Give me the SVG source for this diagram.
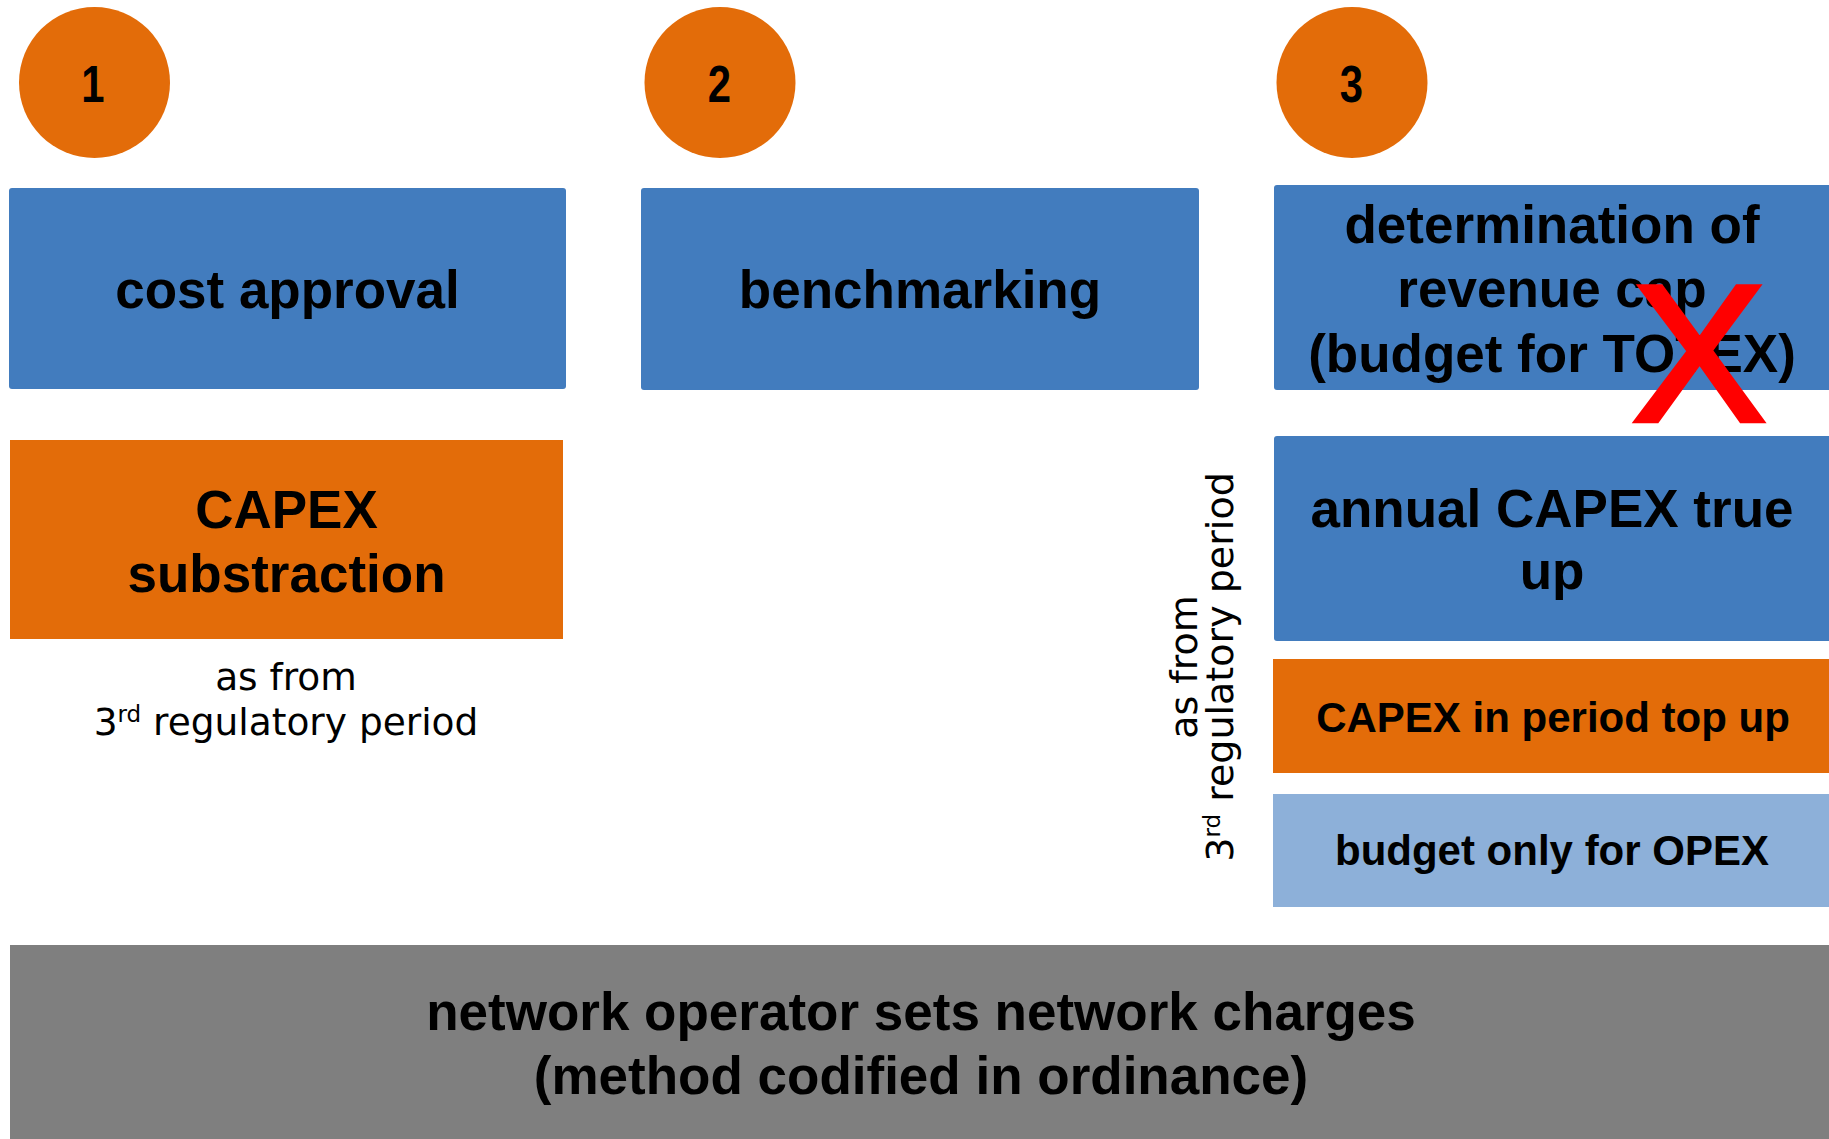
<svg xmlns="http://www.w3.org/2000/svg" width="1829" height="1139" viewBox="0 0 1829 1139">
  <style>
    .blue { fill: #427CBE; }
    .orange { fill: #E36C09; }
    .light { fill: #8DB0D9; }
    .grey { fill: #7F7F7F; }
    .head { font-family: "Liberation Sans", Arial, sans-serif; font-weight: bold; font-size: 53px; fill: #000; text-anchor: middle; }
    .mid { font-family: "Liberation Sans", Arial, sans-serif; font-weight: bold; font-size: 42px; fill: #000; text-anchor: middle; }
    .num { font-family: "Liberation Sans", Arial, sans-serif; font-weight: bold; font-size: 51px; fill: #000; text-anchor: middle; }
    .note { font-family: "DejaVu Sans", Verdana, sans-serif; font-size: 37.5px; fill: #000; text-anchor: middle; }
    .note-r { font-family: "DejaVu Sans", Verdana, sans-serif; font-size: 38px; fill: #000; text-anchor: middle; }
  </style>

  <rect width="1829" height="1139" fill="#fff"/>

  <!-- step badges -->
  <g id="badge-1">
    <circle class="orange" cx="94.5" cy="82.5" r="75.5"/>
    <text class="num" transform="translate(93 102) scale(0.82 1)">1</text>
  </g>
  <g id="badge-2">
    <circle class="orange" cx="720" cy="82.5" r="75.5"/>
    <text class="num" transform="translate(719.5 102) scale(0.82 1)">2</text>
  </g>
  <g id="badge-3">
    <circle class="orange" cx="1352" cy="82.5" r="75.5"/>
    <text class="num" transform="translate(1351.5 102) scale(0.82 1)">3</text>
  </g>

  <!-- column 1 -->
  <g id="cost-approval">
    <rect class="blue" x="9" y="188" width="557" height="201" rx="3"/>
    <text class="head" x="287.5" y="308">cost approval</text>
  </g>
  <g id="capex-substraction">
    <rect class="orange" x="10" y="440" width="553" height="199"/>
    <text class="head" x="286.5" y="528">CAPEX</text>
    <text class="head" x="286.5" y="592">substraction</text>
  </g>
  <g id="note-left">
    <text class="note" x="286" y="690">as from</text>
    <text class="note" x="286" y="735">3<tspan font-size="23" dy="-13">rd</tspan><tspan dy="13"> regulatory period</tspan></text>
  </g>

  <!-- column 2 -->
  <g id="benchmarking">
    <rect class="blue" x="641" y="188" width="558" height="202" rx="3"/>
    <text class="head" x="920" y="308">benchmarking</text>
  </g>

  <!-- column 3 -->
  <g id="revenue-cap">
    <rect class="blue" x="1274" y="185" width="560" height="205" rx="3"/>
    <text class="head" x="1552" y="243">determination of</text>
    <text class="head" x="1552" y="307">revenue cap</text>
    <text class="head" x="1552" y="372">(budget for TOTEX)</text>
  </g>
  <g id="annual-capex-true-up">
    <rect class="blue" x="1274" y="436" width="560" height="205" rx="3"/>
    <text class="head" x="1552" y="527">annual CAPEX true</text>
    <text class="head" x="1552" y="589">up</text>
  </g>
  <g id="capex-top-up">
    <rect class="orange" x="1273" y="659" width="560" height="114"/>
    <text class="mid" x="1553" y="732">CAPEX in period top up</text>
  </g>
  <g id="opex-budget">
    <rect class="light" x="1273" y="794" width="560" height="113"/>
    <text class="mid" x="1552" y="865">budget only for OPEX</text>
  </g>
  <g id="note-right" transform="translate(1197 667) rotate(-90)">
    <text class="note-r" x="0" y="0">as from</text>
    <text class="note-r" x="0" y="36">3<tspan font-size="23" dy="-13">rd</tspan><tspan dy="13"> regulatory period</tspan></text>
  </g>

  <!-- strike-through mark over the revenue cap -->
  <g id="cross-mark">
    <text transform="translate(1699 421) scale(1.04 1)" font-family="Liberation Sans, Arial, sans-serif" font-size="194" fill="#FF0000" stroke="#FF0000" stroke-width="4.5" text-anchor="middle">X</text>
  </g>

  <!-- base band -->
  <g id="network-charges">
    <rect class="grey" x="10" y="945" width="1825" height="200"/>
    <text class="head" x="921" y="1030">network operator sets network charges</text>
    <text class="head" x="921" y="1094">(method codified in ordinance)</text>
  </g>

  <g id="connectors"/>
</svg>
